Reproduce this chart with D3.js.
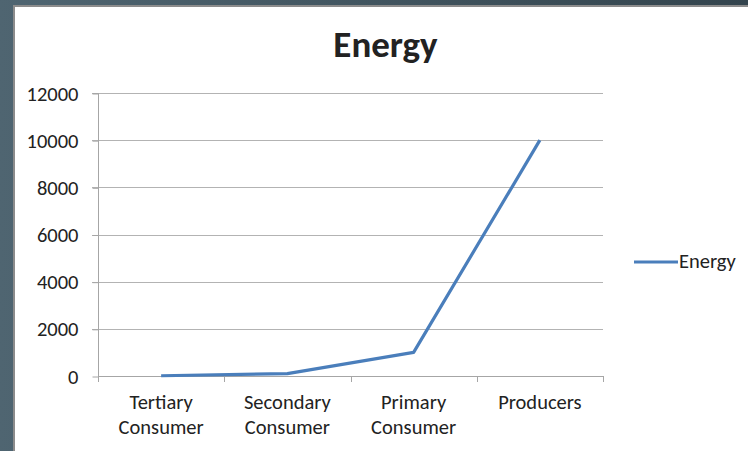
<!DOCTYPE html>
<html>
<head>
<meta charset="utf-8">
<script src="https://cdn.jsdelivr.net/npm/d3@7/dist/d3.min.js"></script>
<style>
  html, body { margin: 0; padding: 0; background: #4a5d69; }
  svg { display: block; }
  text { font-family: Calibri, Carlito, "Open Sans", sans-serif; fill: #222; }
</style>
</head>
<body>
<script>
// Energy at each trophic level
const categories = [["Tertiary", "Consumer"], ["Secondary", "Consumer"], ["Primary", "Consumer"], ["Producers"]];
const energyValues = [10, 100, 1000, 10000];
const yTicks = [0, 2000, 4000, 6000, 8000, 10000, 12000];
const seriesName = "Energy";

const W = 748, H = 451;
const FONT = "Calibri, Carlito, 'Open Sans', sans-serif";
const LABEL_SIZE = 20.5;
const svg = d3.select("body").append("svg").attr("width", W).attr("height", H);

// slide backdrop
const defs = svg.append("defs");
const grad = defs.append("linearGradient").attr("id", "bg").attr("x1", 0).attr("y1", 0).attr("x2", 1).attr("y2", 0);
grad.append("stop").attr("offset", 0).attr("stop-color", "#4f6571");
grad.append("stop").attr("offset", 1).attr("stop-color", "#33444d");
svg.append("rect").attr("width", W).attr("height", H).attr("fill", "url(#bg)");

// chart frame
svg.append("rect").attr("x", 13).attr("y", 5).attr("width", W - 13).attr("height", H - 5).attr("fill", "#8c8c8c");
svg.append("rect").attr("x", 15).attr("y", 7).attr("width", W - 15).attr("height", H - 7).attr("fill", "#ffffff");

const plotLeft = 98, plotRight = 603, plotTop = 93, plotBottom = 376;

const x = d3.scaleBand().domain(d3.range(categories.length)).range([plotLeft, plotRight]).padding(0);
const y = d3.scaleLinear().domain([0, 12000]).range([plotBottom, plotTop]);

// gridlines
svg.append("g").selectAll("line").data(yTicks.filter(d => d > 0)).join("line")
  .attr("x1", plotLeft - 6).attr("x2", plotRight)
  .attr("y1", d => Math.round(y(d)) + 0.5).attr("y2", d => Math.round(y(d)) + 0.5)
  .attr("stroke", "#b3b3b3").attr("stroke-width", 1);

// y axis
const yAxis = svg.append("g").attr("transform", `translate(${plotLeft + 0.5},0.5)`)
  .call(d3.axisLeft(y).tickValues(yTicks).tickSize(6).tickPadding(14).tickFormat(d3.format("d")));
yAxis.select(".domain").attr("stroke", "#a6a6a6").attr("d", `M-6,${plotTop}H0V${plotBottom}`);
yAxis.selectAll(".tick line").attr("stroke", "#a6a6a6");
yAxis.selectAll("text").attr("font-size", LABEL_SIZE).attr("fill", "#222").style("font-family", FONT);

// x axis with ticks at band boundaries
const xg = svg.append("g");
xg.append("line").attr("x1", plotLeft).attr("x2", plotRight).attr("y1", plotBottom + 0.5).attr("y2", plotBottom + 0.5)
  .attr("stroke", "#a6a6a6");
xg.selectAll("line.tk").data(d3.range(categories.length + 1)).join("line").attr("class", "tk")
  .attr("x1", i => Math.round(plotLeft + i * x.step()) + 0.5).attr("x2", i => Math.round(plotLeft + i * x.step()) + 0.5)
  .attr("y1", plotBottom).attr("y2", plotBottom + 6).attr("stroke", "#a6a6a6");
const labels = xg.selectAll("text").data(categories).join("text")
  .attr("text-anchor", "middle").attr("font-size", LABEL_SIZE)
  .attr("x", (d, i) => x(i) + x.bandwidth() / 2).attr("y", 409);
labels.selectAll("tspan").data(d => d).join("tspan")
  .attr("x", function () { return d3.select(this.parentNode).attr("x"); })
  .attr("dy", (d, i) => i === 0 ? 0 : 24.5)
  .text(d => d);

// series line
const line = d3.line().x((d, i) => x(i) + x.bandwidth() / 2).y(d => y(d));
svg.append("path").datum(energyValues).attr("d", line)
  .attr("fill", "none").attr("stroke", "#4a7ebb").attr("stroke-width", 3.2).attr("stroke-linejoin", "round");

// title
svg.append("text").attr("x", 385.5).attr("y", 57).attr("text-anchor", "middle")
  .attr("font-size", 37).attr("font-weight", "bold").attr("fill", "#000").text(seriesName);

// legend
svg.append("line").attr("x1", 634).attr("x2", 678).attr("y1", 262).attr("y2", 262)
  .attr("stroke", "#4a7ebb").attr("stroke-width", 3.2);
svg.append("text").attr("x", 679).attr("y", 268).attr("font-size", LABEL_SIZE).text(seriesName);
</script>
</body>
</html>
